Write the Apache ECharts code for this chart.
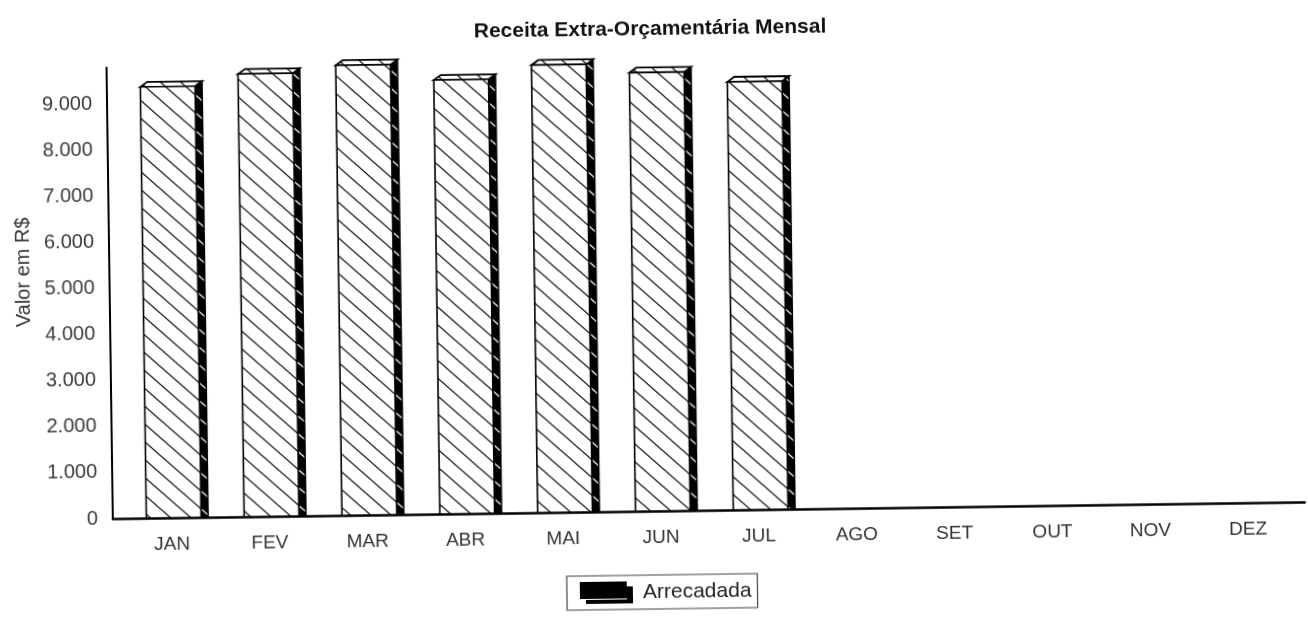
<!DOCTYPE html>
<html>
<head>
<meta charset="utf-8">
<script src="https://cdn.jsdelivr.net/npm/echarts@6/dist/echarts.min.js"></script>
<style>
  html, body { margin: 0; padding: 0; background: #fff; overflow: hidden; }
  #chart { width: 1308px; height: 625px; transform: rotate(-0.8deg); transform-origin: 50% 50%; }
</style>
</head>
<body>
<div id="chart"></div>
<script>
// ---- data ----
const titleText = 'Receita Extra-Orçamentária Mensal';
const yAxisName = 'Valor em R$';
const seriesName = 'Arrecadada';
const months = ['JAN', 'FEV', 'MAR', 'ABR', 'MAI', 'JUN', 'JUL', 'AGO', 'SET', 'OUT', 'NOV', 'DEZ'];
const arrecadada = [9370, 9620, 9780, 9430, 9725, 9530, 9300, null, null, null, null, null];
const yMin = 0, yMax = 9800, yStep = 1000;

// ---- hatch patterns ----
function makeHatch(bg, fg, lw) {
  const w = 20, h = 18;
  const c = document.createElement('canvas');
  c.width = w; c.height = h;
  const g = c.getContext('2d');
  if (bg) { g.fillStyle = bg; g.fillRect(0, 0, w, h); }
  g.strokeStyle = fg; g.lineWidth = lw;
  for (const k of [-1, 0, 1]) {
    g.beginPath();
    g.moveTo(-w, -h + k * h);
    g.lineTo(2 * w, 2 * h + k * h);
    g.stroke();
  }
  return c;
}
const hatchFront = { image: makeHatch('#ffffff', '#111111', 1.3), repeat: 'repeat' };
const hatchSide = { image: makeHatch('#000000', '#ffffff', 1.3), repeat: 'repeat' };

function fmt(v) {
  if (v % yStep !== 0) return '';
  return String(v).replace(/\B(?=(\d{3})+(?!\d))/g, '.');
}

function renderBar(params, api) {
  const v = api.value(1);
  if (v == null || isNaN(v)) return;
  const top = api.coord([api.value(0), v]);
  const base = api.coord([api.value(0), 0]);
  const band = api.size([1, 0])[0];
  const w = band * 0.56;
  const x0 = top[0] - w / 2 + 2, x1 = x0 + w;
  const yT = top[1], yB = base[1];
  const dx = 7, dy = 5;
  return {
    type: 'group',
    children: [
      { type: 'polygon', shape: { points: [[x1, yT], [x1 + dx, yT - dy], [x1 + dx, yB], [x1, yB]] },
        style: { fill: hatchSide, stroke: '#000', lineWidth: 1.5 } },
      { type: 'polygon', shape: { points: [[x0, yT], [x1, yT], [x1 + dx, yT - dy], [x0 + dx, yT - dy]] },
        style: { fill: hatchFront, stroke: '#000', lineWidth: 1.8 } },
      { type: 'rect', shape: { x: x0, y: yT, width: w, height: yB - yT },
        style: { fill: hatchFront, stroke: '#000', lineWidth: 1.6 } }
    ]
  };
}

const FONT = 'Liberation Sans, Arial, sans-serif';
const chart = echarts.init(document.getElementById('chart'), null, { renderer: 'canvas' });
chart.setOption({
  backgroundColor: '#ffffff',
  animation: false,
  title: {
    text: titleText, left: 'center', top: 19, padding: 0,
    textStyle: { fontFamily: FONT, fontSize: 21, fontWeight: 'bold', color: '#111' }
  },
  legend: {
    left: 563, top: 575,
    padding: [6, 6, 6, 13],
    borderColor: '#444', borderWidth: 1.2,
    itemWidth: 53, itemHeight: 22,
    textStyle: { fontFamily: FONT, fontSize: 21, color: '#222', padding: [0, 0, 0, 5] },
    data: [{ name: seriesName, icon: 'path://M0,0H47V17H0Z M47,5H53V22H6V18H47Z', itemStyle: { color: '#000' } }]
  },
  grid: [
    { left: 120, right: 14, top: 60, bottom: 114 },
    { left: 110, right: 6, top: 60, bottom: 114 }
  ],
  xAxis: [
    { type: 'category', gridIndex: 0, data: months,
      axisLine: { show: false }, axisTick: { show: false },
      axisLabel: { fontFamily: FONT, fontSize: 19, color: '#333', margin: 17 } },
    { type: 'value', gridIndex: 1, min: 0, max: 1,
      axisLine: { show: true, lineStyle: { color: '#000', width: 2.5 } },
      axisTick: { show: false }, axisLabel: { show: false }, splitLine: { show: false } }
  ],
  yAxis: [
    { type: 'value', gridIndex: 0, min: yMin, max: yMax, interval: yStep, show: false, splitLine: { show: false } },
    { type: 'value', gridIndex: 1, min: yMin, max: yMax, interval: yStep,
      name: yAxisName, nameLocation: 'middle', nameGap: 73,
      nameTextStyle: { fontFamily: FONT, fontSize: 20, color: '#333', padding: [0, 0, 0, 44] },
      axisLine: { show: true, lineStyle: { color: '#000', width: 2 } },
      axisTick: { show: false }, splitLine: { show: false },
      axisLabel: { fontFamily: FONT, fontSize: 20, color: '#3a3a3a', margin: 15, formatter: fmt, showMaxLabel: false } }
  ],
  series: [{
    name: seriesName, type: 'custom', xAxisIndex: 0, yAxisIndex: 0,
    itemStyle: { color: '#000' },
    renderItem: renderBar,
    encode: { x: 0, y: 1 },
    data: months.map((m, i) => [i, arrecadada[i]])
  }]
});
</script>
</body>
</html>
